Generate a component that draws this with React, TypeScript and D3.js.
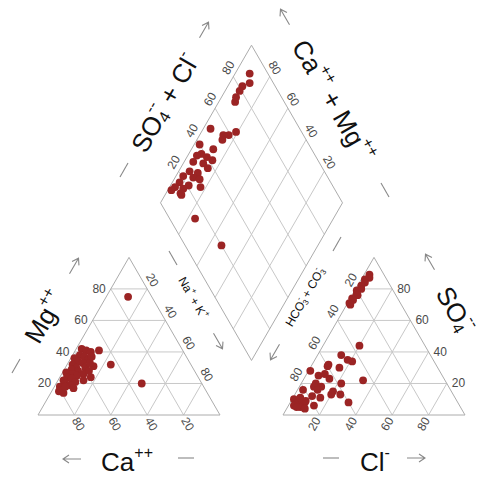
import React from 'react';
import * as d3 from 'd3';

const ticks = [20, 40, 60, 80];

// left triangle (cations, %): Mg and Na+K, Ca is the rest
const cationMg = [75, 20, 32, 41, 42, 41, 40, 38, 37, 36, 35, 34, 33, 32, 31, 30, 30, 29, 28, 27, 26, 26, 25, 24, 23, 22, 22, 21, 20, 19, 18, 17, 16, 15, 14, 33, 28, 24, 37, 18];
const cationNaK = [12, 47, 24, 13, 3, 6, 9, 4, 7, 2, 10, 5, 8, 3, 15, 6, 11, 4, 8, 2, 6, 12, 9, 4, 7, 14, 3, 10, 5, 8, 3, 11, 5, 4, 7, 12, 14, 17, 11, 6];

// right triangle (anions, %): SO4 and Cl, HCO3+CO3 is the rest
const anionSO4 = [89, 87, 86, 84, 82, 80, 79, 77, 76, 74, 73, 71, 70,
  44, 38, 35, 34, 32, 31, 30, 28, 25, 22, 20, 20, 18, 18, 16, 16, 15, 13, 13, 11, 10, 8, 7, 8, 6, 8, 5, 6, 5, 9, 12, 23, 26, 11, 4];
const anionCl = [3, 4, 2, 3, 2, 3, 1, 2, 3, 1, 2, 1, 2,
  20, 13, 18, 21, 9, 9, 16, 1, 7, 33, 22, 8, 8, 12, 3, 11, 20, 20, 25, 15, 1, 4, 7, 8, 14, 32, 7, 3, 5, 8, 10, 14, 10, 4, 10];

// diamond (%): Ca+Mg and SO4+Cl
const diamondCaMg = [92, 89, 92, 92, 92, 91, 96, 81, 84, 87, 97, 88, 76, 53, 86, 93, 95, 89, 85, 95, 89, 85, 94, 89, 96, 90, 86, 96, 90, 97, 92, 98, 83, 91, 92];
const diamondSO4Cl = [90, 87, 82, 79, 75, 73, 51, 64, 59, 56, 40, 46, 14, 20, 54, 38, 35, 40, 42, 31, 36, 37, 26, 30, 21, 26, 29, 17, 21, 13, 17, 10, 27, 14, 14];

const W = 485;
const H = 478;
const side = 182;
const th = side * Math.sqrt(3) / 2;
const baseY = 415;
const leftX = 38;
const gap = 63;
const rightX = leftX + side + gap;
const bx = leftX + side + gap / 2;
const by = baseY - gap * Math.sqrt(3) / 2;

const px = d3.scaleLinear().domain([0, 100]).range([0, side]);
const py = d3.scaleLinear().domain([0, 100]).range([0, th]);

const leftPt = (mg: number, na: number): [number, number] => [leftX + px(na + mg / 2), baseY - py(mg)];
const rightPt = (so4: number, cl: number): [number, number] => [rightX + px(cl + so4 / 2), baseY - py(so4)];
const diaPt = (a: number, b: number): [number, number] => [bx + px((b - a) / 2), by - py(a + b)];

const line = d3.line();
const font = 'Liberation Sans, Arial, sans-serif';
const gridColor = '#c8c8c8';
const edgeColor = '#acacac';
const dotColor = '#9b2424';
const tickColor = '#4a4a4a';

const Arrow = ({ x, y, angle }: { x: number; y: number; angle: number }) => (
  <path transform={`translate(${x},${y}) rotate(${angle})`} d="M-9,0 L9,0 M3,-4 L9,0 L3,4" fill="none" stroke="#888" strokeWidth={1.1} />
);
const Dash = ({ x, y, angle }: { x: number; y: number; angle: number }) => (
  <path transform={`translate(${x},${y}) rotate(${angle})`} d="M-8,0 L8,0" stroke="#888" strokeWidth={1.1} />
);

const Label = ({ x, y, angle = 0, anchor = 'middle', text }: any) => (
  <text transform={`translate(${x},${y}) rotate(${angle})`} textAnchor={anchor} dominantBaseline="central" fontSize={12} fill={tickColor} fontFamily={font}>{text}</text>
);

const Title = ({ x, y, angle = 0, size = 26, children }: any) => (
  <text transform={`translate(${x},${y}) rotate(${angle})`} textAnchor="middle" dominantBaseline="central" fontSize={size} fill="#111" fontFamily={font}>{children}</text>
);

const off = (p: [number, number], dx: number, dy: number): [number, number] => [p[0] + dx, p[1] + dy];

export default function App() {
  const leftGrid: [number, number][][] = [];
  const rightGrid: [number, number][][] = [];
  const diaGrid: [number, number][][] = [];
  ticks.forEach(t => {
    leftGrid.push([leftPt(t, 0), leftPt(t, 100 - t)]);
    leftGrid.push([leftPt(0, t), leftPt(100 - t, t)]);
    leftGrid.push([leftPt(0, 100 - t), leftPt(100 - t, 0)]);
    rightGrid.push([rightPt(t, 0), rightPt(t, 100 - t)]);
    rightGrid.push([rightPt(0, t), rightPt(100 - t, t)]);
    rightGrid.push([rightPt(0, 100 - t), rightPt(100 - t, 0)]);
    diaGrid.push([diaPt(t, 0), diaPt(t, 100)]);
    diaGrid.push([diaPt(0, t), diaPt(100, t)]);
  });

  const leftEdge = [leftPt(0, 0), leftPt(100, 0), leftPt(0, 100), leftPt(0, 0)];
  const rightEdge = [rightPt(0, 0), rightPt(100, 0), rightPt(0, 100), rightPt(0, 0)];
  const diaEdge = [diaPt(0, 0), diaPt(100, 0), diaPt(100, 100), diaPt(0, 100), diaPt(0, 0)];

  return (
    <svg width={W} height={H} style={{ position: 'absolute', left: 0, top: 0, background: '#fff' }}>
      {[...leftGrid, ...rightGrid, ...diaGrid].map((seg, i) => (
        <path key={'g' + i} d={line(seg) || ''} stroke={gridColor} strokeWidth={1} fill="none" />
      ))}
      {[leftEdge, rightEdge, diaEdge].map((seg, i) => (
        <path key={'e' + i} d={line(seg as [number, number][]) || ''} stroke={edgeColor} strokeWidth={1} fill="none" />
      ))}

      {/* tick labels */}
      {ticks.map(t => {
        const mg = leftPt(t, 0);
        const ca = off(leftPt(0, 100 - t), 4, 9);
        const na = off(leftPt(100 - t, t), 5, -9);
        const so4 = rightPt(t, 100 - t);
        const cl = off(rightPt(0, t), -5, 9);
        const hc = off(rightPt(100 - t, 0), -5, -9);
        const sc = off(diaPt(100, t), -5, -9);
        const cm = off(diaPt(t, 100), 5, -9);
        return (
          <g key={'t' + t}>
            <Label x={mg[0] - 5} y={mg[1]} anchor="end" text={t} />
            <Label x={ca[0]} y={ca[1]} angle={60} text={t} />
            <Label x={na[0]} y={na[1]} angle={60} text={t} />
            <Label x={so4[0] + 5} y={so4[1]} anchor="start" text={t} />
            <Label x={cl[0]} y={cl[1]} angle={-60} text={t} />
            <Label x={hc[0]} y={hc[1]} angle={-60} text={t} />
            <Label x={sc[0]} y={sc[1]} angle={-60} text={t} />
            <Label x={cm[0]} y={cm[1]} angle={60} text={t} />
          </g>
        );
      })}

      {/* points */}
      {cationMg.map((mg, i) => {
        const p = leftPt(mg, cationNaK[i]);
        return <circle key={'l' + i} cx={p[0]} cy={p[1]} r={3.9} fill={dotColor} />;
      })}
      {anionSO4.map((s, i) => {
        const p = rightPt(s, anionCl[i]);
        return <circle key={'r' + i} cx={p[0]} cy={p[1]} r={3.9} fill={dotColor} />;
      })}
      {diamondCaMg.map((a, i) => {
        const p = diaPt(a, diamondSO4Cl[i]);
        return <circle key={'d' + i} cx={p[0]} cy={p[1]} r={3.9} fill={dotColor} />;
      })}

      {/* axis titles */}
      <Title x={45} y={317} angle={-60}>Mg<tspan fontSize={16} dy={-10}>++</tspan></Title>
      <Dash x={16} y={366} angle={-60} />
      <Arrow x={74} y={266} angle={-60} />

      <Title x={127} y={462}>Ca<tspan fontSize={16} dy={-10}>++</tspan></Title>
      <Arrow x={72} y={459} angle={180} />
      <Dash x={186} y={458} angle={0} />

      <Title x={193} y={298} angle={60} size={12}>Na<tspan fontSize={8} dy={-5}>+</tspan><tspan dy={5}> + K</tspan><tspan fontSize={8} dy={-5}>+</tspan></Title>
      <Dash x={173} y={258} angle={60} />
      <Arrow x={218} y={341} angle={60} />

      <Title x={455} y={310} angle={60}>SO<tspan fontSize={16} dy={6}>4</tspan><tspan fontSize={16} dx={-8} dy={-17}>--</tspan></Title>
      <Arrow x={430} y={262} angle={-120} />

      <Title x={375} y={462}>Cl<tspan fontSize={16} dy={-10}>-</tspan></Title>
      <Dash x={331} y={458} angle={0} />
      <Arrow x={416} y={458} angle={0} />

      <Title x={305} y={297} angle={-60} size={12}>HCO<tspan fontSize={8} dy={3}>3</tspan><tspan fontSize={8} dx={-4} dy={-8}>-</tspan><tspan dy={5}> + CO</tspan><tspan fontSize={8} dy={3}>3</tspan><tspan fontSize={8} dx={-4} dy={-8}>-</tspan></Title>
      <Dash x={337} y={244} angle={-60} />
      <Arrow x={275} y={352} angle={120} />

      <Title x={165} y={103} angle={-60}>SO<tspan fontSize={16} dy={6}>4</tspan><tspan fontSize={16} dx={-8} dy={-17}>--</tspan><tspan dy={11}> + Cl</tspan><tspan fontSize={16} dy={-10}>-</tspan></Title>
      <Dash x={124} y={170} angle={-60} />
      <Arrow x={204} y={30} angle={-60} />

      <Title x={333} y={101} angle={60}>Ca<tspan fontSize={16} dy={-10}>++</tspan><tspan dy={10}> + Mg</tspan><tspan fontSize={16} dy={-10}>++</tspan></Title>
      <Arrow x={285} y={17} angle={-120} />
      <Dash x={385} y={190} angle={60} />
    </svg>
  );
}
